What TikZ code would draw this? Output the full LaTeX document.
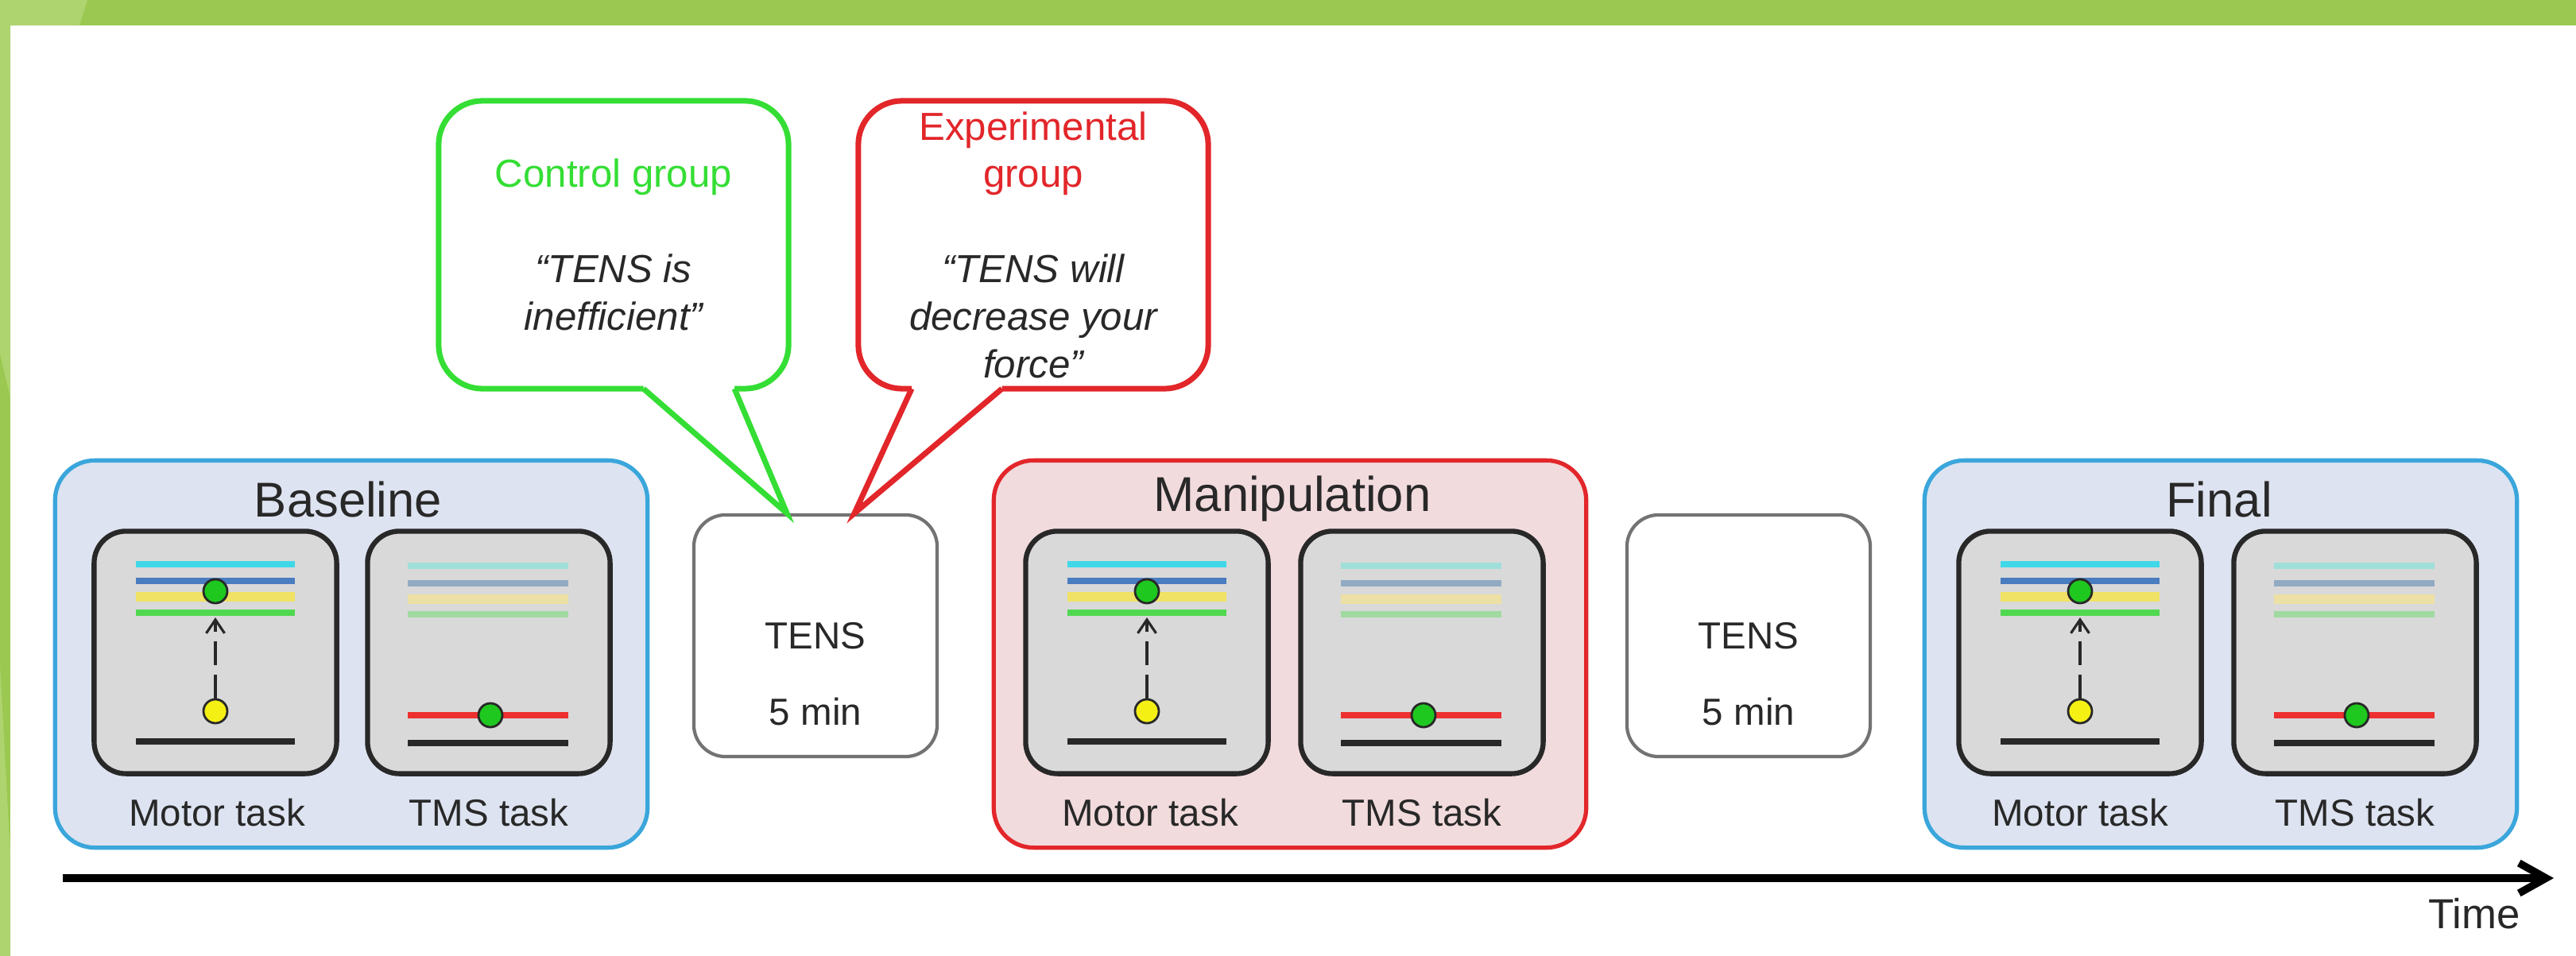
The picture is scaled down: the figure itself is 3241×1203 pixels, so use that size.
\documentclass[tikz,border=0pt]{standalone}
\usepackage{fontspec}
\setmainfont{Liberation Sans}
\usetikzlibrary{arrows.meta,positioning,calc}
\definecolor{SlideGreen}{RGB}{155,200,80}
\definecolor{SlideLight}{RGB}{174,212,112}
\definecolor{PhaseBlue}{RGB}{58,166,219}
\definecolor{PhaseBlueFill}{RGB}{221,227,240}
\definecolor{PhaseRed}{RGB}{226,38,42}
\definecolor{PhaseRedFill}{RGB}{242,219,221}
\definecolor{PanelGray}{RGB}{217,217,217}
\definecolor{CtrlGreen}{RGB}{52,222,52}
\definecolor{TextGray}{RGB}{40,40,40}
\definecolor{TensGray}{RGB}{115,115,115}
\definecolor{LvCyan}{RGB}{64,216,232}
\definecolor{LvBlue}{RGB}{74,124,192}
\definecolor{LvYellow}{RGB}{240,226,100}
\definecolor{LvGreen}{RGB}{80,216,80}
\definecolor{FdCyan}{RGB}{160,222,218}
\definecolor{FdBlue}{RGB}{146,170,194}
\definecolor{FdYellow}{RGB}{236,224,164}
\definecolor{FdGreen}{RGB}{160,218,160}
\definecolor{LvRed}{RGB}{238,48,48}
\definecolor{DotGreen}{RGB}{30,200,30}
\definecolor{DotYellow}{RGB}{245,240,20}

\begin{document}
\begin{tikzpicture}[x=0.01cm, y=-0.01cm,
    phase/.style={rounded corners=0.5cm, line width=1.5pt, minimum width=7.45cm, minimum height=4.87cm},
    panel/.style={draw=TextGray, fill=PanelGray, rounded corners=0.4cm, line width=1.8pt, minimum width=3.05cm, minimum height=3.05cm},
    tens/.style={draw=TensGray, fill=white, rounded corners=0.4cm, line width=1.2pt, minimum width=3.06cm, minimum height=3.04cm},
    tenstext/.style={align=center, text=TextGray, font=\fontsize{13.5}{16}\selectfont},
    bubble/.style={fill=white, rounded corners=0.55cm, line width=2pt, minimum width=4.4cm, minimum height=3.62cm, align=center, text=TextGray, font=\fontsize{14}{17}\selectfont},
    phasetitle/.style={text=TextGray, font=\fontsize{17.5}{20}\selectfont},
    tasklabel/.style={text=TextGray, font=\fontsize{13.5}{16}\selectfont},
    lvline/.style={line width=2pt},
    knob/.style={circle, draw=TextGray, line width=0.8pt, inner sep=0pt, minimum size=0.3cm},
    arrow/.style={-{Straight Barb[length=1.7mm,width=2.3mm]}, line width=0.9pt, draw=TextGray, dash pattern=on 0.3cm off 0.12cm},
    timeline/.style={-{Straight Barb[length=3.4mm,width=3.8mm]}, line width=2.7pt, draw=black}
  ]
    % slide frame
    \useasboundingbox (0,0) rectangle (3241,1203);
    \fill[white] (0,0) rectangle (3241,1203);
    \fill[SlideGreen] (0,0) rectangle (3241,32);
    \fill[SlideGreen] (0,0) rectangle (13,1203);
    \fill[SlideLight] (0,0) -- (110,0) -- (100,32) -- (13,32) -- (13,500) -- (0,445) -- cycle;
    \fill[SlideLight] (0,836) -- (13,1074) -- (13,1203) -- (0,1203) -- cycle;

    % phases
    \node[phase, draw=PhaseBlue, fill=PhaseBlueFill] (base) at (442,823) {};
    \node[phase, draw=PhaseRed, fill=PhaseRedFill] (manip) at (1623,823) {};
    \node[phase, draw=PhaseBlue, fill=PhaseBlueFill] (final) at (2794,823) {};
    \node[phasetitle] (basetitle) at (438,628) {Baseline};
    \node[phasetitle] (maniptitle) at (1626,628) {Manipulation};
    \node[phasetitle] (finaltitle) at (2792,628) {Final};

    \node[panel] (basemotor) at (271,821) {};
    \node[panel] (basetms) at (615,821) {};
    \node[panel] (manipmotor) at (1443,821) {};
    \node[panel] (maniptms) at (1789,821) {};
    \node[panel] (finalmotor) at (2617,821) {};
    \node[panel] (finaltms) at (2963,821) {};

    \node[tasklabel] (basemotorlbl) at (273,1023) {Motor task};
    \node[tasklabel] (basetmslbl) at (615,1023) {TMS task};
    \node[tasklabel] (manipmotorlbl) at (1447,1023) {Motor task};
    \node[tasklabel] (maniptmslbl) at (1789,1023) {TMS task};
    \node[tasklabel] (finalmotorlbl) at (2617,1023) {Motor task};
    \node[tasklabel] (finaltmslbl) at (2963,1023) {TMS task};

    % motor task panels
    \foreach \p in {basemotor, manipmotor, finalmotor} {
      \begin{scope}[shift={(\p)}]
        \draw[lvline, LvCyan] (-100,-111) -- (100,-111);
        \draw[lvline, LvBlue] (-100,-90) -- (100,-90);
        \draw[lvline, LvYellow, line width=3.6pt] (-100,-70) -- (100,-70);
        \draw[lvline, LvGreen] (-100,-50) -- (100,-50);
        \draw[lvline, TextGray] (-100,112) -- (100,112);
        \node[knob, fill=DotYellow] (\p-from) at (0,74) {};
        \node[knob, fill=DotGreen] (\p-to) at (0,-77) {};
        \coordinate (\p-tip) at (0,-44);
        \draw[arrow] (\p-from) -- (\p-tip);
      \end{scope}
    }
    % TMS task panels
    \foreach \p in {basetms, maniptms, finaltms} {
      \begin{scope}[shift={(\p)}]
        \draw[lvline, FdCyan] (-102,-109) -- (100,-109);
        \draw[lvline, FdBlue] (-102,-87) -- (100,-87);
        \draw[lvline, FdYellow, line width=3.6pt] (-102,-67) -- (100,-67);
        \draw[lvline, FdGreen] (-102,-48) -- (100,-48);
        \draw[lvline, LvRed] (-102,79) -- (100,79);
        \draw[lvline, TextGray] (-102,114) -- (100,114);
        \node[knob, fill=DotGreen] (\p-dot) at (2,79) {};
      \end{scope}
    }

    % TENS
    \node[tens] (tens1) at (1026,800) {};
    \node[tens] (tens2) at (2200,800) {};
    \node[tenstext] (tens1text) at (1026,848) {TENS\\[11.5pt]5 min};
    \node[tenstext] (tens2text) at (2200,848) {TENS\\[11.5pt]5 min};

    % instructions
    \node[bubble, draw=CtrlGreen] (ctrl) at (772,308) {{\color{CtrlGreen}Control group}\\[17pt]\itshape “TENS is\\\itshape inefficient”};
    \node[bubble, draw=PhaseRed] (expt) at (1300,308) {{\color{PhaseRed}Experimental}\\{\color{PhaseRed}group}\\[17pt]\itshape “TENS will\\\itshape decrease your\\\itshape force”};

    \coordinate (ctrltip) at ($(tens1.north west)!0.384!(tens1.north east)$);
    \coordinate (expttip) at ($(tens1.north west)!0.658!(tens1.north east)$);
    \coordinate (ctrl-l) at ($(ctrl.south west)!0.584!(ctrl.south east)+(0,-3.5)$);
    \coordinate (ctrl-r) at ($(ctrl.south west)!0.84!(ctrl.south east)+(0,-3.5)$);
    \coordinate (expt-l) at ($(expt.south west)!0.158!(expt.south east)+(0,-3.5)$);
    \coordinate (expt-r) at ($(expt.south west)!0.412!(expt.south east)+(0,-3.5)$);
    \fill[white] ($(ctrl-l)+(0,-10)$) -- (ctrl-l) -- (ctrltip) -- (ctrl-r) -- ($(ctrl-r)+(0,-10)$) -- cycle;
    \fill[white] ($(expt-l)+(0,-10)$) -- (expt-l) -- (expttip) -- (expt-r) -- ($(expt-r)+(0,-10)$) -- cycle;
    \draw[CtrlGreen, line width=2pt] (ctrl-l) -- (ctrltip) -- (ctrl-r);
    \draw[PhaseRed, line width=2pt] (expt-l) -- (expttip) -- (expt-r);

    % time axis
    \coordinate (tstart) at (79,1105);
    \coordinate (tend) at (3213,1105);
    \draw[timeline] (tstart) -- (tend);
    \node[text=TextGray, font=\fontsize{15}{18}\selectfont] (time) at (3113,1150) {Time};
  \end{tikzpicture}
\end{document}
